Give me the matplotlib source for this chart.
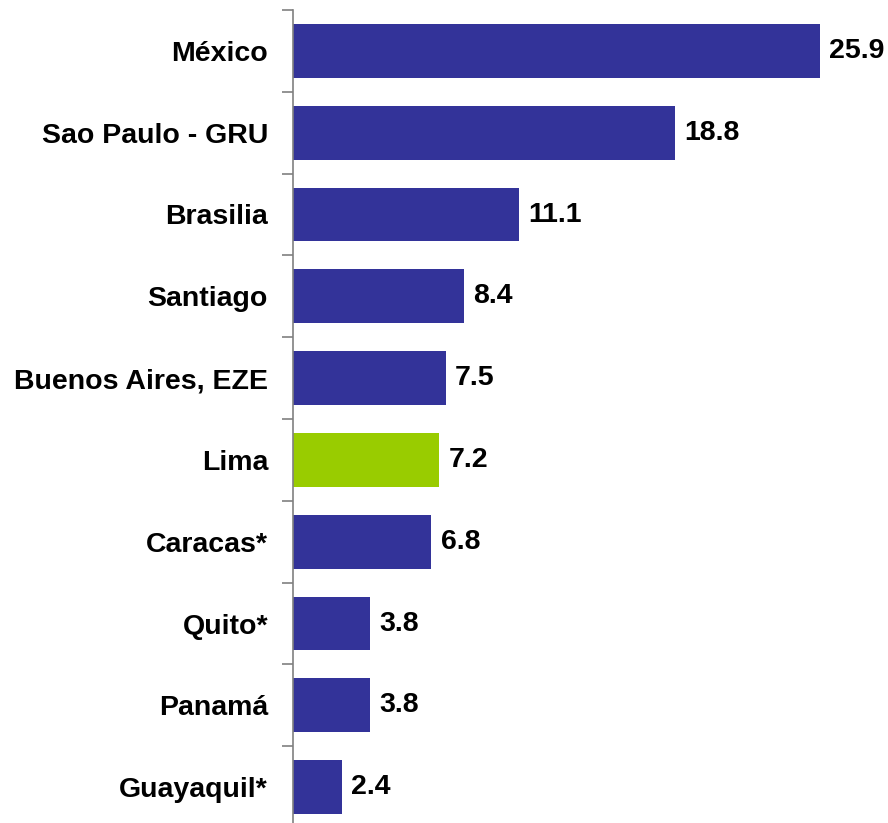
import numpy as np
import matplotlib
matplotlib.use('Agg')
import matplotlib.pyplot as plt

plt.rcParams['font.family'] = ['Liberation Sans', 'DejaVu Sans']

cities = ['México', 'Sao Paulo - GRU', 'Brasilia', 'Santiago', 'Buenos Aires, EZE',
          'Lima', 'Caracas*', 'Quito*', 'Panamá', 'Guayaquil*']
values = [25.9, 18.8, 11.1, 8.4, 7.5, 7.2, 6.8, 3.8, 3.8, 2.4]
highlight = 'Lima'

blue = '#333399'
green = '#99cc00'

fig = plt.figure(figsize=(8.88, 8.23), dpi=100)
# axis spans category -0.5..9.5; bottom runs slightly past the image edge
ax = fig.add_axes([293 / 888, -5 / 823, 590 / 888, 818 / 823])

y = np.arange(len(cities))
colors = [green if c == highlight else blue for c in cities]
ax.barh(y, values, height=0.66, color=colors, zorder=2)

for yi, v in zip(y, values):
    ax.text(v + 0.45, yi, '%.1f' % v, va='center', ha='left',
            fontsize=20.5, fontweight='bold', color='black')

ax.set_ylim(len(cities) - 0.5, -0.5)
ax.set_xlim(0, 29)

ax.set_yticks(y)
ax.set_yticklabels(cities, fontsize=20.5, fontweight='bold')
ax.set_yticks(np.arange(-0.5, len(cities), 1.0), minor=True)
ax.tick_params(axis='y', which='major', length=0, pad=18)
ax.tick_params(axis='y', which='minor', length=8, width=1.2, color='#808080', direction='out')
ax.set_xticks([])

for s in ['top', 'right', 'bottom']:
    ax.spines[s].set_visible(False)
ax.spines['left'].set_color('#808080')
ax.spines['left'].set_linewidth(1.2)

fig.savefig('out.png', dpi=100)
